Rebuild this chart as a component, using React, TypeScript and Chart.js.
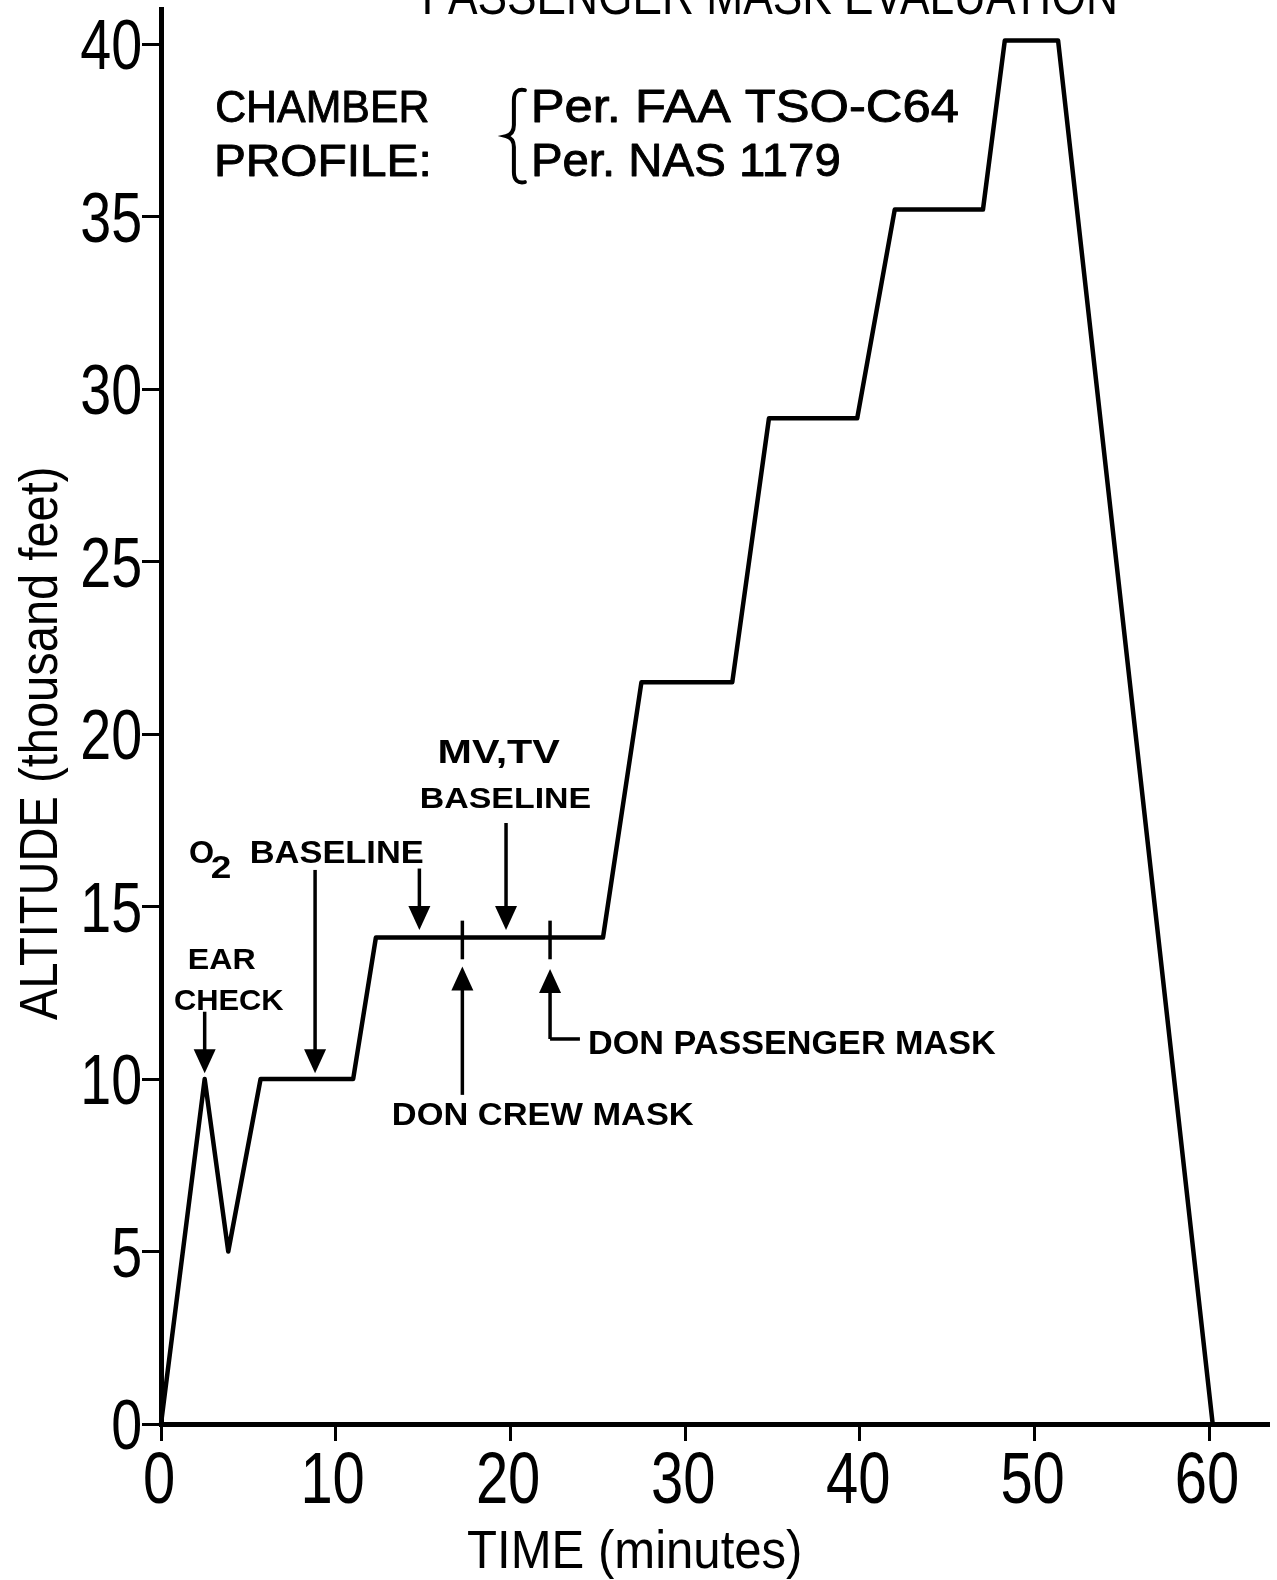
import React, { useEffect, useRef } from "react";
import { Chart, registerables } from "chart.js";

Chart.register(...registerables);

// ---------------- data ----------------
const TIME_MIN = [0, 2.5, 3.85, 5.7, 11.0, 12.3, 25.3, 27.5, 32.7, 34.8, 39.85, 42.0, 47.05, 48.3, 51.35, 60.2];
const ALTITUDE_KFT = [0, 10, 5, 10, 10, 14.1, 14.1, 21.5, 21.5, 29.15, 29.15, 35.2, 35.2, 40.1, 40.1, 0];

const X_MIN = 0;
const X_MAX = 63.4;
const X_STEP = 10;
const Y_MIN = 0;
const Y_MAX = 41;
const Y_STEP = 5;

const TITLE = "PASSENGER MASK EVALUATION";
const X_TITLE = "TIME (minutes)";
const Y_TITLE = "ALTITUDE (thousand feet)";

// event arrows, in (minutes, thousand feet)
const DOWN_ARROW_X = [2.5, 8.82, 14.79, 19.75];
const DOWN_ARROW_FROM = [11.95, 16.06, 16.1, 17.42];
const DOWN_ARROW_TO = [10.17, 10.17, 14.32, 14.32];
const UP_ARROW_X = [17.25, 22.27];
const UP_ARROW_FROM = [9.54, 11.16];
const UP_ARROW_TO = [13.26, 13.19];
const EVENT_MARK_X = [17.25, 22.27];
const EVENT_MARK_LOW = 13.47;
const EVENT_MARK_HIGH = 14.59;
const PASSENGER_LEADER_END = 23.98;

// annotation texts (anchor = left ink edge / baseline, in data units)
const LABEL_TEXT = [
  "CHAMBER",
  "PROFILE:",
  "Per. FAA TSO-C64",
  "Per. NAS 1179",
  "EAR",
  "CHECK",
  "O",
  "2",
  "BASELINE",
  "MV,TV",
  "BASELINE",
  "DON CREW MASK",
  "DON PASSENGER MASK",
];
const LABEL_X = [3.21, 3.21, 21.35, 21.35, 1.66, 0.8, 1.66, 2.92, 5.21, 15.97, 14.94, 13.34, 24.56];
const LABEL_Y = [37.74, 36.17, 37.74, 36.17, 13.19, 12.0, 16.25, 15.82, 16.25, 19.15, 17.85, 8.67, 10.72];

// layout of the labels (cap height px, ink width px, heavy?)
const LABEL_CAP = [31, 31, 32, 32, 21, 21, 21.6, 21.6, 21.6, 23, 21, 22, 23];
const LABEL_W = [211, 211, 424, 305, 66, 109, 23, 18, 171, 120, 168, 300, 406];
const LABEL_HEAVY = [false, false, false, false, true, true, true, true, true, true, true, true, true];

const SANS = "'Liberation Sans', Arial, sans-serif";

function capRatio(ctx: CanvasRenderingContext2D, weight: string, family: string) {
  ctx.font = `${weight} 100px ${family}`;
  const m = ctx.measureText("H");
  return (m.actualBoundingBoxAscent || 69) / 100;
}

// draws text whose ink has cap height `cap`, either fitted to `width` or scaled by sx
function drawText(
  ctx: CanvasRenderingContext2D,
  text: string,
  anchorX: number,
  baseline: number,
  cap: number,
  opts: { width?: number; sx?: number; align?: "left" | "center" | "right"; weight?: string; rotate?: boolean; outline?: number }
) {
  const weight = opts.weight || "normal";
  const r = capRatio(ctx, weight, SANS);
  const size = cap / r;
  ctx.font = `${weight} ${size}px ${SANS}`;
  ctx.textAlign = "left";
  ctx.textBaseline = "alphabetic";
  const m = ctx.measureText(text);
  const ink = m.actualBoundingBoxLeft + m.actualBoundingBoxRight;
  const sx = opts.width ? opts.width / ink : opts.sx || 1;
  const w = ink * sx;
  const align = opts.align || "left";
  const left = align === "left" ? anchorX : align === "center" ? anchorX - w / 2 : anchorX - w;
  ctx.save();
  if (opts.rotate) {
    ctx.translate(anchorX, baseline);
    ctx.rotate(-Math.PI / 2);
  } else {
    ctx.translate(left, baseline);
  }
  ctx.scale(sx, 1);
  ctx.fillStyle = "#000";
  ctx.fillText(text, m.actualBoundingBoxLeft, 0);
  if (opts.outline) {
    ctx.strokeStyle = "#000";
    ctx.lineWidth = opts.outline;
    ctx.lineJoin = "round";
    ctx.strokeText(text, m.actualBoundingBoxLeft, 0);
  }
  ctx.restore();
}

function drawArrow(ctx: CanvasRenderingContext2D, x: number, yFrom: number, yTip: number) {
  const headL = 24;
  const headW = 11;
  const dir = yTip > yFrom ? 1 : -1;
  ctx.save();
  ctx.strokeStyle = "#000";
  ctx.fillStyle = "#000";
  ctx.lineWidth = 3.5;
  ctx.lineCap = "butt";
  ctx.beginPath();
  ctx.moveTo(x, yFrom);
  ctx.lineTo(x, yTip - dir * (headL - 2));
  ctx.stroke();
  ctx.beginPath();
  ctx.moveTo(x, yTip);
  ctx.lineTo(x - headW, yTip - dir * headL);
  ctx.lineTo(x + headW, yTip - dir * headL);
  ctx.closePath();
  ctx.fill();
  ctx.restore();
}

const annotationPlugin = {
  id: "maskAnnotations",
  afterDraw(chart: any) {
    const ctx: CanvasRenderingContext2D = chart.ctx;
    const xs = chart.scales.x;
    const ys = chart.scales.y;
    const px = (v: number) => xs.getPixelForValue(v);
    const py = (v: number) => ys.getPixelForValue(v);

    ctx.save();

    // tick labels, taken from the scales' own ticks (condensed lettering)
    const tickCap = 48;
    for (const t of ys.ticks) {
      drawText(ctx, String(t.value), xs.left - 21, py(t.value) + tickCap / 2 + 1, tickCap, { sx: 0.8, align: "right" });
    }
    for (const t of xs.ticks) {
      drawText(ctx, String(t.value), px(t.value) - 2, ys.bottom + 79, tickCap + 2, { sx: 0.8, align: "center" });
    }

    // title (cut off at the top of the page, as in the scan)
    drawText(ctx, TITLE, px(15.11), py(40.88), 37, { width: 690 });
    // axis titles
    drawText(ctx, X_TITLE, px(17.57), py(-4.18), 36.7, { width: 332 });
    drawText(ctx, Y_TITLE, px(-5.95), py(11.71), 37, { width: 551, rotate: true });

    // labels
    for (let i = 0; i < LABEL_TEXT.length; i++) {
      drawText(ctx, LABEL_TEXT[i], px(LABEL_X[i]), py(LABEL_Y[i]), LABEL_CAP[i], {
        width: LABEL_W[i],
        weight: LABEL_HEAVY[i] ? "bold" : "normal",
        outline: LABEL_HEAVY[i] ? 0 : 0.9,
      });
    }

    // curly brace
    const bx = px(20.2);
    const by = py(37.33);
    ctx.strokeStyle = "#000";
    ctx.lineWidth = 4;
    ctx.lineCap = "round";
    ctx.beginPath();
    ctx.moveTo(bx + 11, by - 46);
    ctx.quadraticCurveTo(bx, by - 48, bx, by - 36);
    ctx.lineTo(bx, by - 11);
    ctx.quadraticCurveTo(bx, by - 2, bx - 8, by);
    ctx.quadraticCurveTo(bx, by + 2, bx, by + 11);
    ctx.lineTo(bx, by + 36);
    ctx.quadraticCurveTo(bx, by + 48, bx + 11, by + 46);
    ctx.stroke();

    // arrows
    for (let i = 0; i < DOWN_ARROW_X.length; i++) {
      drawArrow(ctx, px(DOWN_ARROW_X[i]), py(DOWN_ARROW_FROM[i]), py(DOWN_ARROW_TO[i]));
    }
    for (let i = 0; i < UP_ARROW_X.length; i++) {
      drawArrow(ctx, px(UP_ARROW_X[i]), py(UP_ARROW_FROM[i]), py(UP_ARROW_TO[i]));
    }
    // event marks crossing the profile
    ctx.lineWidth = 3.5;
    ctx.lineCap = "butt";
    for (let i = 0; i < EVENT_MARK_X.length; i++) {
      ctx.beginPath();
      ctx.moveTo(px(EVENT_MARK_X[i]), py(EVENT_MARK_LOW));
      ctx.lineTo(px(EVENT_MARK_X[i]), py(EVENT_MARK_HIGH));
      ctx.stroke();
    }
    // leader to DON PASSENGER MASK
    ctx.beginPath();
    ctx.moveTo(px(UP_ARROW_X[1]), py(UP_ARROW_FROM[1]));
    ctx.lineTo(px(PASSENGER_LEADER_END), py(UP_ARROW_FROM[1]));
    ctx.stroke();
    ctx.restore();
  },
};

const whiteBg = {
  id: "whiteBg",
  beforeDraw(chart: any) {
    const c = chart.ctx;
    c.save();
    c.fillStyle = "#fff";
    c.fillRect(0, 0, chart.width, chart.height);
    c.restore();
  },
};

export default function App() {
  const ref = useRef<HTMLCanvasElement | null>(null);

  useEffect(() => {
    if (!ref.current) return;
    const points = TIME_MIN.map((t, i) => ({ x: t, y: ALTITUDE_KFT[i] }));
    const chart = new Chart(ref.current, {
      type: "line",
      data: {
        datasets: [
          {
            data: points,
            borderColor: "#000",
            borderWidth: 4.5,
            pointRadius: 0,
            fill: false,
            tension: 0,
            borderJoinStyle: "round",
            borderCapStyle: "round",
            clip: false,
          } as any,
        ],
      },
      options: {
        responsive: false,
        maintainAspectRatio: false,
        animation: false,
        devicePixelRatio: 1,
        layout: { padding: { top: 9.5, right: 8.4, left: 0, bottom: 0 } },
        plugins: { legend: { display: false }, tooltip: { enabled: false }, title: { display: false } },
        scales: {
          x: {
            type: "linear",
            min: X_MIN,
            max: X_MAX,
            afterFit: (s: any) => {
              s.height = 156;
              s.paddingLeft = 0;
              s.paddingRight = 0;
            },
            ticks: {
              display: false,
              stepSize: X_STEP,
              includeBounds: false,
              autoSkip: false,
            },
            grid: { drawOnChartArea: false, drawTicks: true, tickLength: 17, color: "#000", lineWidth: 3 },
            border: { display: true, color: "#000", width: 5 },
          },
          y: {
            type: "linear",
            min: Y_MIN,
            max: Y_MAX,
            afterFit: (s: any) => {
              s.width = 161;
              s.paddingTop = 0;
              s.paddingBottom = 0;
            },
            ticks: {
              display: false,
              stepSize: Y_STEP,
              includeBounds: false,
              autoSkip: false,
            },
            grid: { drawOnChartArea: false, drawTicks: true, tickLength: 19, color: "#000", lineWidth: 3 },
            border: { display: true, color: "#000", width: 5 },
          },
        },
      },
      plugins: [whiteBg, annotationPlugin],
    });
    return () => chart.destroy();
  }, []);

  return (
    <div style={{ position: "absolute", left: 0, top: 0, width: 1277, height: 1580, background: "#fff" }}>
      <canvas ref={ref} width={1277} height={1580} style={{ display: "block", width: 1277, height: 1580 }} />
    </div>
  );
}
